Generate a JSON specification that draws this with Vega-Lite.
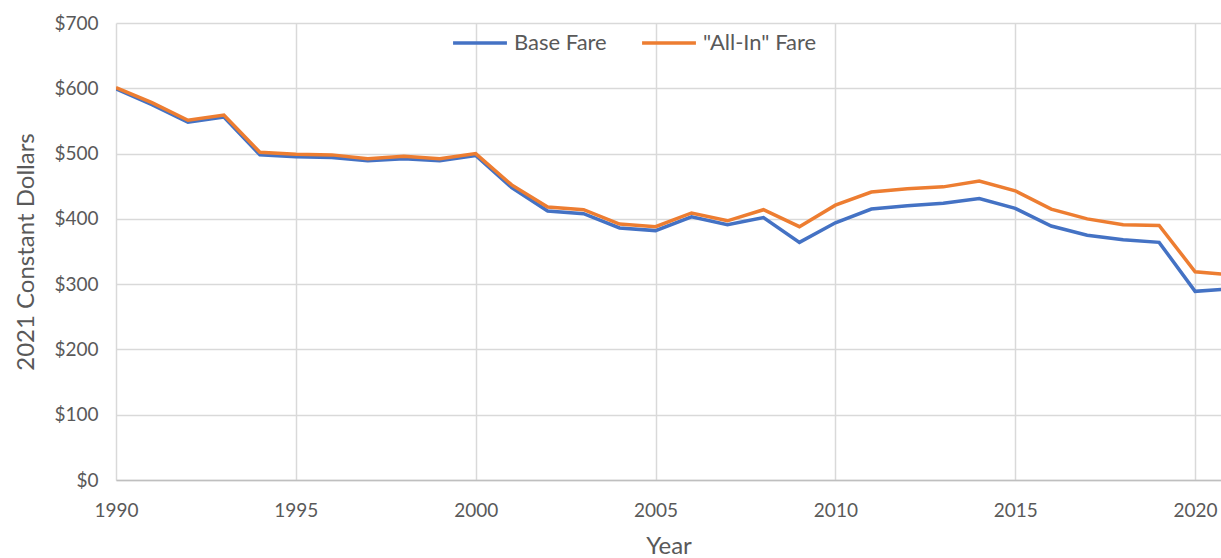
{
  "$schema": "https://vega.github.io/schema/vega-lite/v6.json",
  "autosize": "none",
  "width": 1105,
  "height": 457,
  "padding": {"left": 116, "top": 23, "right": 0, "bottom": 78},
  "background": "white",
  "config": {
    "view": {"stroke": null},
    "font": "Lato",
    "axis": {"labelFont": "Lato", "titleFont": "Lato", "labelColor": "#595959", "titleColor": "#595959", "gridColor": "#d9d9d9", "gridWidth": 1.5}
  },
  "data": {
    "values": [
      {"year": 1990, "series": "Base Fare", "value": 599},
      {"year": 1991, "series": "Base Fare", "value": 575},
      {"year": 1992, "series": "Base Fare", "value": 548},
      {"year": 1993, "series": "Base Fare", "value": 556},
      {"year": 1994, "series": "Base Fare", "value": 498},
      {"year": 1995, "series": "Base Fare", "value": 495},
      {"year": 1996, "series": "Base Fare", "value": 494},
      {"year": 1997, "series": "Base Fare", "value": 489},
      {"year": 1998, "series": "Base Fare", "value": 492},
      {"year": 1999, "series": "Base Fare", "value": 489},
      {"year": 2000, "series": "Base Fare", "value": 497},
      {"year": 2001, "series": "Base Fare", "value": 448},
      {"year": 2002, "series": "Base Fare", "value": 412},
      {"year": 2003, "series": "Base Fare", "value": 408},
      {"year": 2004, "series": "Base Fare", "value": 386},
      {"year": 2005, "series": "Base Fare", "value": 382},
      {"year": 2006, "series": "Base Fare", "value": 403},
      {"year": 2007, "series": "Base Fare", "value": 391},
      {"year": 2008, "series": "Base Fare", "value": 402},
      {"year": 2009, "series": "Base Fare", "value": 364},
      {"year": 2010, "series": "Base Fare", "value": 394},
      {"year": 2011, "series": "Base Fare", "value": 415},
      {"year": 2012, "series": "Base Fare", "value": 420},
      {"year": 2013, "series": "Base Fare", "value": 424},
      {"year": 2014, "series": "Base Fare", "value": 431},
      {"year": 2015, "series": "Base Fare", "value": 416},
      {"year": 2016, "series": "Base Fare", "value": 389},
      {"year": 2017, "series": "Base Fare", "value": 375},
      {"year": 2018, "series": "Base Fare", "value": 368},
      {"year": 2019, "series": "Base Fare", "value": 364},
      {"year": 2020, "series": "Base Fare", "value": 289},
      {"year": 2021, "series": "Base Fare", "value": 293},
      {"year": 1990, "series": "\"All-In\" Fare", "value": 601},
      {"year": 1991, "series": "\"All-In\" Fare", "value": 578},
      {"year": 1992, "series": "\"All-In\" Fare", "value": 551},
      {"year": 1993, "series": "\"All-In\" Fare", "value": 559},
      {"year": 1994, "series": "\"All-In\" Fare", "value": 502},
      {"year": 1995, "series": "\"All-In\" Fare", "value": 499},
      {"year": 1996, "series": "\"All-In\" Fare", "value": 498},
      {"year": 1997, "series": "\"All-In\" Fare", "value": 492},
      {"year": 1998, "series": "\"All-In\" Fare", "value": 496},
      {"year": 1999, "series": "\"All-In\" Fare", "value": 492},
      {"year": 2000, "series": "\"All-In\" Fare", "value": 500},
      {"year": 2001, "series": "\"All-In\" Fare", "value": 452},
      {"year": 2002, "series": "\"All-In\" Fare", "value": 418},
      {"year": 2003, "series": "\"All-In\" Fare", "value": 414},
      {"year": 2004, "series": "\"All-In\" Fare", "value": 392},
      {"year": 2005, "series": "\"All-In\" Fare", "value": 388},
      {"year": 2006, "series": "\"All-In\" Fare", "value": 409},
      {"year": 2007, "series": "\"All-In\" Fare", "value": 397},
      {"year": 2008, "series": "\"All-In\" Fare", "value": 414},
      {"year": 2009, "series": "\"All-In\" Fare", "value": 388},
      {"year": 2010, "series": "\"All-In\" Fare", "value": 421},
      {"year": 2011, "series": "\"All-In\" Fare", "value": 441},
      {"year": 2012, "series": "\"All-In\" Fare", "value": 446},
      {"year": 2013, "series": "\"All-In\" Fare", "value": 449},
      {"year": 2014, "series": "\"All-In\" Fare", "value": 458},
      {"year": 2015, "series": "\"All-In\" Fare", "value": 443},
      {"year": 2016, "series": "\"All-In\" Fare", "value": 415},
      {"year": 2017, "series": "\"All-In\" Fare", "value": 400},
      {"year": 2018, "series": "\"All-In\" Fare", "value": 391},
      {"year": 2019, "series": "\"All-In\" Fare", "value": 390},
      {"year": 2020, "series": "\"All-In\" Fare", "value": 319},
      {"year": 2021, "series": "\"All-In\" Fare", "value": 314}
    ]
  },
  "mark": {"type": "line", "strokeWidth": 3.5, "clip": true},
  "encoding": {
    "x": {
      "field": "year", "type": "quantitative",
      "scale": {"domain": [1990, 2020.72], "nice": false, "zero": false},
      "axis": {
        "title": "Year", "titleFontSize": 24, "titleFontWeight": "normal", "titlePadding": 14,
        "values": [1990, 1995, 2000, 2005, 2010, 2015, 2020], "format": "d",
        "labelFontSize": 19, "labelPadding": 21, "ticks": false,
        "domainColor": "#bfbfbf", "domainWidth": 1.5, "labelFlush": false
      }
    },
    "y": {
      "field": "value", "type": "quantitative",
      "scale": {"domain": [0, 700], "nice": false},
      "axis": {
        "title": "2021 Constant Dollars", "titleFontSize": 24, "titleFontWeight": "normal", "titlePadding": 15,
        "values": [0, 100, 200, 300, 400, 500, 600, 700], "format": "$,d",
        "labelFontSize": 19, "labelPadding": 18, "ticks": false, "domain": false
      }
    },
    "color": {
      "field": "series", "type": "nominal",
      "scale": {"domain": ["Base Fare", "\"All-In\" Fare"], "range": ["#4472C4", "#ED7D31"]},
      "legend": {
        "title": null, "orient": "none", "legendX": 335, "legendY": -9, "direction": "horizontal",
        "symbolType": "stroke", "symbolSize": 2900, "symbolStrokeWidth": 3.5,
        "labelFontSize": 22, "labelColor": "#595959", "labelFont": "Lato", "columnPadding": 28, "labelOffset": 5
      }
    }
  }
}
